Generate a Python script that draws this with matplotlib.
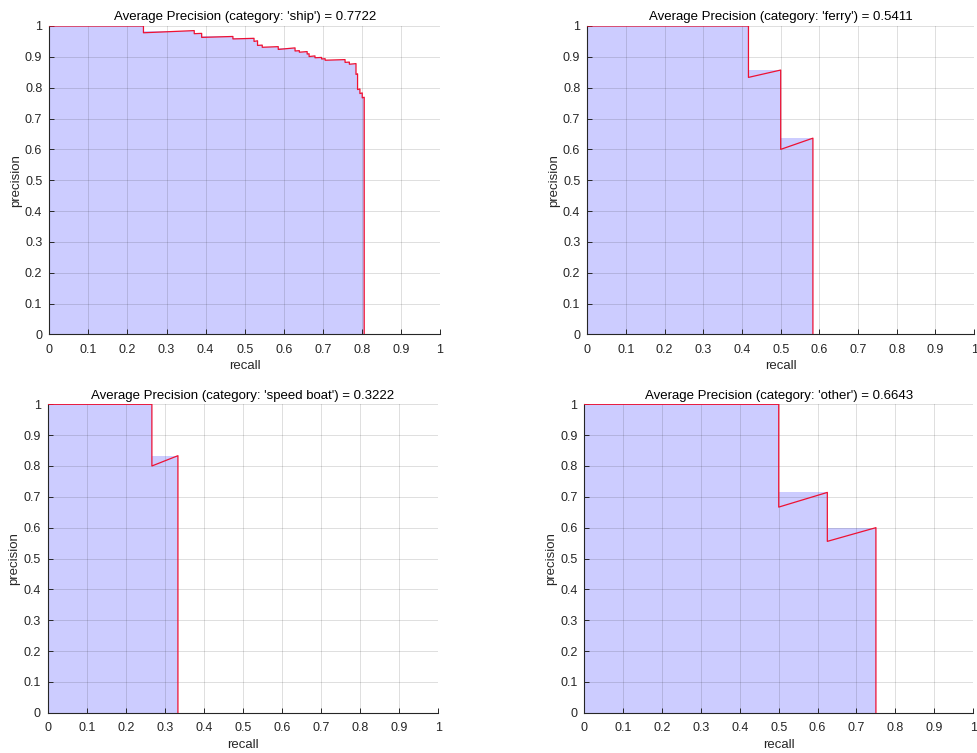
import numpy as np
import matplotlib.pyplot as plt
from matplotlib.ticker import FuncFormatter

plt.rcParams['font.family'] = ['Liberation Sans', 'DejaVu Sans']

categories = ['ship', 'ferry', 'speed boat', 'other']
ap_values = [0.7722, 0.5411, 0.3222, 0.6643]

# raw precision/recall points, in detection order
ship_recall = [0.000, 0.241, 0.241, 0.371, 0.371, 0.390, 0.390, 0.470, 0.470,
               0.524, 0.524, 0.533, 0.533, 0.545, 0.545, 0.586, 0.586, 0.629,
               0.629, 0.640, 0.640, 0.660, 0.660, 0.665, 0.665, 0.680, 0.680,
               0.697, 0.697, 0.706, 0.706, 0.757, 0.757, 0.768, 0.768, 0.785,
               0.785, 0.789, 0.789, 0.795, 0.795, 0.801, 0.801, 0.806, 0.806]
ship_precision = [1.000, 1.000, 0.978, 0.985, 0.975, 0.976, 0.963, 0.966, 0.958,
                  0.960, 0.950, 0.952, 0.937, 0.938, 0.931, 0.933, 0.924, 0.929,
                  0.919, 0.920, 0.915, 0.917, 0.909, 0.910, 0.901, 0.903, 0.897,
                  0.898, 0.893, 0.894, 0.889, 0.891, 0.882, 0.883, 0.876, 0.878,
                  0.843, 0.845, 0.794, 0.796, 0.781, 0.783, 0.767, 0.769, 0.000]

ferry_recall = [0.0, 5/12, 5/12, 6/12, 6/12, 7/12, 7/12]
ferry_precision = [1.0, 1.0, 5/6, 6/7, 6/10, 7/11, 0.0]

speedboat_recall = [0.0, 4/15, 4/15, 5/15, 5/15]
speedboat_precision = [1.0, 1.0, 4/5, 5/6, 0.0]

other_recall = [0.0, 4/8, 4/8, 5/8, 5/8, 6/8, 6/8]
other_precision = [1.0, 1.0, 4/6, 5/7, 5/9, 6/10, 0.0]

curves = [(ship_recall, ship_precision),
          (ferry_recall, ferry_precision),
          (speedboat_recall, speedboat_precision),
          (other_recall, other_precision)]

positions = [[0.0504, 0.5558, 0.3995, 0.4097],
             [0.6005, 0.5558, 0.3955, 0.4097],
             [0.0488, 0.0535, 0.3994, 0.4096],
             [0.5975, 0.0535, 0.3975, 0.4096]]

fig = plt.figure(figsize=(9.78, 7.53), dpi=100)
ticks = np.round(np.arange(0, 1.01, 0.1), 1)
fmt = FuncFormatter(lambda v, _: f'{v:g}')
axcol = '#262626'

for cat, ap, (rec, prec), pos in zip(categories, ap_values, curves, positions):
    ax = fig.add_axes(pos)
    rec = np.array(rec)
    prec = np.array(prec)
    # interpolated precision: best precision at any higher recall
    interp = np.maximum.accumulate(prec[::-1])[::-1]
    ax.fill_between(rec, interp, 0, color='#ccccff', linewidth=0, zorder=1)
    ax.plot(rec, prec, color='#ee1133', linewidth=0.9, zorder=3)

    ax.set_xlim(0, 1)
    ax.set_ylim(0, 1)
    ax.set_xticks(ticks)
    ax.set_yticks(ticks)
    ax.xaxis.set_major_formatter(fmt)
    ax.yaxis.set_major_formatter(fmt)
    ax.set_axisbelow(False)
    ax.grid(True, color=(0.15, 0.15, 0.15), alpha=0.15, linewidth=0.7)
    ax.tick_params(direction='in', length=3.5, width=0.7, colors=axcol,
                   labelsize=9, top=False, right=False)
    ax.tick_params(axis='x', pad=7)
    ax.tick_params(axis='y', pad=5)
    for side in ['top', 'right']:
        ax.spines[side].set_visible(False)
    for side in ['left', 'bottom']:
        ax.spines[side].set_color(axcol)
        ax.spines[side].set_linewidth(0.8)

    ax.set_xlabel('recall', fontsize=9.5, color=axcol, labelpad=3)
    ax.set_ylabel('precision', fontsize=9.5, color=axcol, labelpad=2)
    ax.set_title(f"Average Precision (category: '{cat}') = {ap:.4f}",
                 fontsize=9.5, color='black', pad=4)

fig.savefig('out.png', dpi=100)
